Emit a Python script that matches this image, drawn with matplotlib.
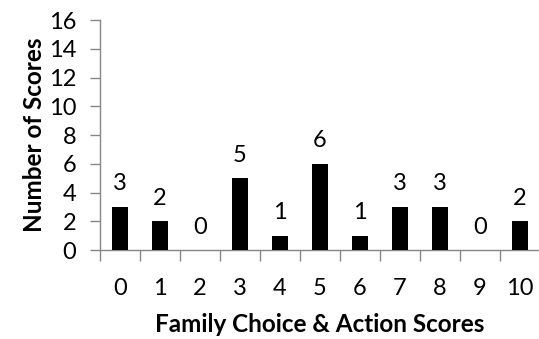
import matplotlib
matplotlib.use("Agg")
import matplotlib.pyplot as plt
import numpy as np

plt.rcParams["font.family"] = ["Lato", "DejaVu Sans"]

scores = ["0", "1", "2", "3", "4", "5", "6", "7", "8", "9", "10"]
counts = [3, 2, 0, 5, 1, 6, 1, 3, 3, 0, 2]
yticks = [0, 2, 4, 6, 8, 10, 12, 14, 16]

AX_C = "#868686"
FS = 17
x = np.arange(len(scores))

fig = plt.figure(figsize=(5.39, 3.39), dpi=100)
ax = fig.add_axes([0.1855, 0.2625, 0.8165, 0.6785])
bars = ax.bar(x, counts, width=0.42, color="black", zorder=3)
ax.bar_label(bars, labels=[str(c) for c in counts], padding=9, fontsize=FS)

ax.set_xlim(-0.5, len(scores) - 0.5)
ax.set_ylim(0, 16)
ax.set_yticks(yticks)
ax.set_xticks(x)
ax.set_xticklabels(scores)
ax.set_xticks(np.arange(len(scores)) - 0.5, minor=True)
ax.tick_params(axis="x", which="major", length=0, pad=20, labelsize=FS)
ax.tick_params(axis="x", which="minor", length=8, color=AX_C, width=1)
ax.tick_params(axis="y", length=7, color=AX_C, width=1, labelsize=FS, pad=10)

for s in ("top", "right"):
    ax.spines[s].set_visible(False)
for s in ("left", "bottom"):
    ax.spines[s].set_color(AX_C)
    ax.spines[s].set_linewidth(1)

ax.set_ylabel("Number of Scores", fontsize=17.5, fontweight="bold", labelpad=2)
ax.set_xlabel("Family Choice & Action Scores", fontsize=17.5, fontweight="bold", labelpad=10)

fig.savefig("out.png", dpi=100)
